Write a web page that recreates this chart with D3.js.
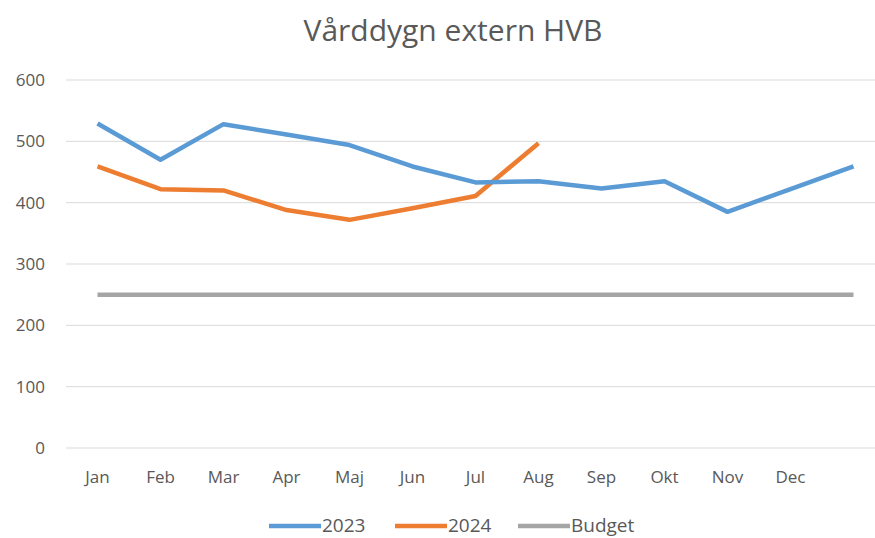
<!doctype html>
<html>
<head>
<meta charset="utf-8"/>
<script src="https://cdnjs.cloudflare.com/ajax/libs/d3/7.8.5/d3.min.js"></script>
<style>
  body { margin: 0; background: #fff; }
  svg, svg text { font-family: "Open Sans", "Noto Sans", sans-serif; }
  .grid line { stroke: #d9d9d9; stroke-width: 1px; }
  .tick text { fill: #595959; }
</style>
</head>
<body>
<svg width="875" height="538"></svg>
<script>
// chart data
var months = ["Jan", "Feb", "Mar", "Apr", "Maj", "Jun", "Jul", "Aug", "Sep", "Okt", "Nov", "Dec", ""];
var v2023 = [529, 470, 528, 511, 494, 459, 433, 435, 423, 435, 385, 422, 459];
var v2024 = [459, 422, 420, 388, 372, 391, 411, 497];
var budget = [250, 250, 250, 250, 250, 250, 250, 250, 250, 250, 250, 250, 250];
var yTicks = [0, 100, 200, 300, 400, 500, 600];

var series = [
  {name: "2023", values: v2023, color: "#5B9BD5"},
  {name: "2024", values: v2024, color: "#ED7D31"},
  {name: "Budget", values: budget, color: "#A5A5A5"}
];

var svg = d3.select("svg");

var x = d3.scaleBand().domain(months.map((m, i) => i)).range([66, 885]);
var y = d3.scaleLinear().domain([0, 600]).range([448, 80]);

svg.append("text")
  .attr("x", 453).attr("y", 41)
  .attr("text-anchor", "middle")
  .style("font-size", "30px")
  .style("fill", "#595959")
  .text("Vårddygn extern HVB");

// gridlines
var grid = svg.append("g").attr("class", "grid");
grid.selectAll("line").data(yTicks).enter().append("line")
  .attr("x1", 66).attr("x2", 885)
  .attr("y1", d => y(d)).attr("y2", d => y(d));

// y axis labels
var yAxis = svg.append("g")
  .attr("transform", "translate(66,0)")
  .call(d3.axisLeft(y).tickValues(yTicks).tickSize(0).tickPadding(21));
yAxis.select(".domain").remove();
yAxis.selectAll("text").style("font-size", "17px").style("font-family", "'Open Sans'");

// x axis labels
var xAxis = svg.append("g")
  .attr("transform", "translate(0,448)")
  .call(d3.axisBottom(x).tickSize(0).tickPadding(23).tickFormat(i => months[i]));
xAxis.select(".domain").remove();
xAxis.selectAll("text").style("font-size", "17px").style("font-family", "'Open Sans'");

var line = d3.line()
  .x((d, i) => x(i) + x.bandwidth() / 2)
  .y(d => y(d));

svg.selectAll("path.series").data(series.slice().reverse()).enter().append("path")
  .attr("class", "series")
  .attr("fill", "none")
  .attr("stroke", d => d.color)
  .attr("stroke-width", 4.5)
  .attr("stroke-linejoin", "round")
  .attr("d", d => line(d.values));

// legend
var legendX = [269, 395, 518];
var leg = svg.selectAll("g.legend").data(series).enter().append("g")
  .attr("class", "legend")
  .attr("transform", (d, i) => "translate(" + legendX[i] + ",526)");
leg.append("line")
  .attr("x1", 0).attr("x2", 52)
  .attr("stroke", d => d.color).attr("stroke-width", 4.5);
leg.append("text")
  .attr("x", 53).attr("y", 6)
  .style("font-size", "19px")
  .style("fill", "#595959")
  .text(d => d.name);
</script>
</body>
</html>
